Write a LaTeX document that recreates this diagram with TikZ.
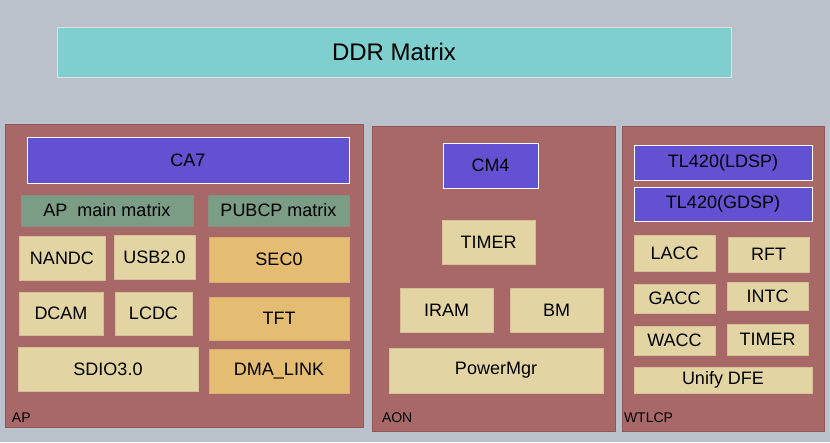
\documentclass[tikz,border=0pt]{standalone}
\usepackage{fontspec}
\setmainfont{Liberation Sans}
\usetikzlibrary{positioning}

\definecolor{bggray}{HTML}{BBC1CB}
\definecolor{ddrteal}{HTML}{7FCFCF}
\definecolor{panelred}{HTML}{A86868}
\definecolor{corepurple}{HTML}{6252D2}
\definecolor{iptan}{HTML}{E3D5A3}
\definecolor{pubamber}{HTML}{E4BC72}
\definecolor{matrixgreen}{HTML}{7B9D85}

\begin{document}
\begin{tikzpicture}[
    x=1pt, y=-1pt,
    every node/.style={inner sep=0pt, outer sep=0pt, anchor=north west},
    panel/.style={rectangle, fill=panelred, draw=panelred!85!black, line width=0.6pt},
    core/.style={rectangle, fill=corepurple, draw=white, line width=1pt, font=\fontsize{18}{21}\selectfont},
    ipblock/.style={rectangle, fill=iptan, draw=iptan!80!panelred, line width=1pt, font=\fontsize{18}{21}\selectfont},
    pubblock/.style={rectangle, fill=pubamber, draw=pubamber!85!panelred, line width=1pt, font=\fontsize{18}{21}\selectfont},
    busblock/.style={rectangle, fill=matrixgreen, draw=matrixgreen!80!panelred, line width=1pt, font=\fontsize{18}{21}\selectfont},
    panellabel/.style={anchor=base west, font=\fontsize{14}{16}\selectfont}
    ]

    % canvas
    \fill[bggray] (0,0) rectangle (830,442);
    \useasboundingbox (0,0) rectangle (830,442);

    % Top: DDR matrix
    \node[rectangle, fill=ddrteal, draw=white!88!black, line width=1pt,
          minimum width=674pt, minimum height=50pt, font=\fontsize{24}{28}\selectfont] (ddr) at (57,27) {DDR Matrix};

    % Subsystem panels
    \node[panel, minimum width=358pt, minimum height=303pt] (ap) at (5,124) {};
    \node[panel, minimum width=243pt, minimum height=305pt] (aon) at (372,126) {};
    \node[panel, minimum width=202pt, minimum height=305pt] (wtlcp) at (622,126) {};

    \node[panellabel] (aplabel) at (12,422) {AP};
    \node[panellabel] (aonlabel) at (382,422) {AON};
    \node[panellabel] (wtlcplabel) at (624,422) {WTLCP};

    % AP subsystem
    \node[core, minimum width=322pt, minimum height=46pt] (ca7) at (27,137) {CA7};
    \node[busblock, minimum width=172pt, minimum height=31pt] (apmatrix) at (21,195) {AP\ \ main matrix};
    \node[busblock, minimum width=141pt, minimum height=31pt] (pubcpmatrix) at (208,195) {PUBCP matrix};
    \node[ipblock, minimum width=86pt, minimum height=44pt] (nandc) at (19,236) {NANDC};
    \node[ipblock, minimum width=81pt, minimum height=44pt] (usb) at (114,235) {USB2.0};
    \node[ipblock, minimum width=84pt, minimum height=43pt] (dcam) at (19,292) {DCAM};
    \node[ipblock, minimum width=77pt, minimum height=43pt] (lcdc) at (115,292) {LCDC};
    \node[ipblock, minimum width=180pt, minimum height=44pt] (sdio) at (18,347) {SDIO3.0};
    \node[pubblock, minimum width=140pt, minimum height=45pt] (sec) at (209,237) {SEC0};
    \node[pubblock, minimum width=140pt, minimum height=43pt] (tft) at (209,297) {TFT};
    \node[pubblock, minimum width=140pt, minimum height=44pt] (dmalink) at (209,349) {DMA\_LINK};

    % AON subsystem
    \node[core, minimum width=95pt, minimum height=45pt] (cm4) at (443,143) {CM4};
    \node[ipblock, minimum width=93pt, minimum height=44pt] (aontimer) at (442,220) {TIMER};
    \node[ipblock, minimum width=93pt, minimum height=44pt] (iram) at (400,288) {IRAM};
    \node[ipblock, minimum width=93pt, minimum height=44pt] (bm) at (510,288) {BM};
    \node[ipblock, minimum width=214pt, minimum height=45pt] (powermgr) at (389,348) {PowerMgr};

    % WTLCP subsystem
    \node[core, minimum width=178pt, minimum height=35pt] (ldsp) at (634,145) {TL420(LDSP)};
    \node[core, minimum width=178pt, minimum height=34pt] (gdsp) at (634,187) {TL420(GDSP)};
    \node[ipblock, minimum width=81pt, minimum height=36pt] (lacc) at (634,235) {LACC};
    \node[ipblock, minimum width=81pt, minimum height=35pt] (rft) at (728,237) {RFT};
    \node[ipblock, minimum width=81pt, minimum height=29pt] (gacc) at (634,284) {GACC};
    \node[ipblock, minimum width=81pt, minimum height=28pt] (intc) at (727,282) {INTC};
    \node[ipblock, minimum width=81pt, minimum height=29pt] (wacc) at (634,326) {WACC};
    \node[ipblock, minimum width=81pt, minimum height=31pt] (wtimer) at (727,324) {TIMER};
    \node[ipblock, minimum width=178pt, minimum height=26pt] (dfe) at (634,367) {Unify DFE};

\end{tikzpicture}
\end{document}
